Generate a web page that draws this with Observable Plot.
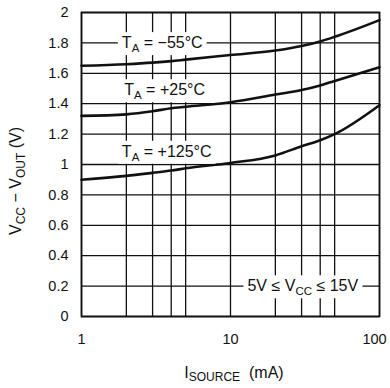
<!DOCTYPE html>
<html><head><meta charset="utf-8">
<script src="https://cdn.jsdelivr.net/npm/d3@7"></script>
<script src="https://cdn.jsdelivr.net/npm/@observablehq/plot@0.6"></script>
<style>body{margin:0;background:#fff} svg{display:block}</style>
</head><body><div id="chart"></div>
<script>
// ---- data ----
const iSource = [1, 2, 3, 4, 5, 10, 20, 30, 40, 50, 100];          // mA
const vMinus55 = [1.65, 1.66, 1.67, 1.68, 1.69, 1.72, 1.75, 1.78, 1.81, 1.84, 1.95];
const vPlus25  = [1.32, 1.33, 1.35, 1.37, 1.38, 1.41, 1.46, 1.49, 1.52, 1.55, 1.64];
const vPlus125 = [0.90, 0.925, 0.945, 0.96, 0.975, 1.01, 1.06, 1.12, 1.16, 1.20, 1.39];
const gridX = [1, 2, 3, 4, 5, 10, 20, 30, 40, 50, 100];
const gridY = [0, 0.2, 0.4, 0.6, 0.8, 1, 1.2, 1.4, 1.6, 1.8, 2];
const xTickLabels = ["1", "10", "100"];
const xTickValues = [1, 10, 100];
const yTickLabels = ["0", "0.2", "0.4", "0.6", "0.8", "1", "1.2", "1.4", "1.6", "1.8", "2"];
const seriesNames = ["-55", "+25", "+125"];

const rows = [];
[vMinus55, vPlus25, vPlus125].forEach((vals, k) =>
  vals.forEach((v, i) => rows.push({series: seriesNames[k], x: iSource[i], y: v})));

const FONT = "'Liberation Sans', Arial, sans-serif";
const xLab = d => xTickLabels[xTickValues.findIndex(v => Math.abs(v - d) < 1e-9)];
const yLab = d => yTickLabels[gridY.findIndex(v => Math.abs(v - d) < 1e-9)];

const chart = Plot.plot({
  width: 390, height: 388,
  marginLeft: 81, marginRight: 11, marginTop: 12, marginBottom: 72,
  style: {fontFamily: FONT, fontSize: "14px", color: "#111", background: "#fff"},
  x: {type: "log", domain: [1, 100]},
  y: {domain: [0, 2]},
  marks: [
    Plot.ruleX(gridX, {stroke: "#111", strokeWidth: 1.3}),
    Plot.ruleY(gridY, {stroke: "#111", strokeWidth: 1.3}),
    Plot.frame({stroke: "#111", strokeWidth: 1.7}),
    Plot.line(rows, {x: "x", y: "y", z: "series", stroke: "#111", strokeWidth: 2.6, curve: "monotone-x"}),
    Plot.axisY({ticks: gridY, tickFormat: yLab, tickSize: 0, tickPadding: 13, label: null, fontSize: 14.5}),
    Plot.axisX({ticks: [xTickValues[0], xTickValues[1]], tickFormat: xLab, tickSize: 0, tickPadding: 17, label: null, fontSize: 14.5}),
    Plot.axisX({ticks: [xTickValues[2]], tickFormat: xLab, tickSize: 0, tickPadding: 17, dx: -5, label: null, fontSize: 14.5})
  ]
});
document.getElementById("chart").append(chart);

const svg = d3.select(chart);
const sx = chart.scale("x"), sy = chart.scale("y");
const layer = svg.append("g").attr("font-family", FONT).attr("fill", "#111");

function richText(g, parts, size, subSize, shift) {
  const t = g.append("text").attr("font-size", size);
  let cur = 0;
  parts.forEach(([s, sub]) => {
    const want = sub ? shift : 0;
    t.append("tspan").attr("dy", want - cur).attr("font-size", sub ? subSize : size).text(s);
    cur = want;
  });
  return t;
}

function boxedLabel(x, yCenter, parts) {
  const g = layer.append("g");
  const rect = g.append("rect").attr("fill", "#fff");
  const t = richText(g, parts, 16, 11.5, 4).attr("text-anchor", "start")
    .attr("x", sx.apply(x)).attr("y", sy.apply(yCenter) + 5.7);
  const b = t.node().getBBox();
  rect.attr("x", b.x - 4).attr("y", b.y - 2).attr("width", b.width + 8).attr("height", b.height + 3);
}

boxedLabel(1.88, 1.8, [["T"], ["A", 1], [" = −55°C"]]);
boxedLabel(1.95, 1.49, [["T"], ["A", 1], [" = +25°C"]]);
boxedLabel(1.88, 1.085, [["T"], ["A", 1], [" = +125°C"]]);
boxedLabel(13.1, 0.2, [["5V ≤ V"], ["CC", 1], [" ≤ 15V"]]);

// axis titles
richText(layer.append("g").attr("transform", "translate(234,378)"),
  [["I"], ["SOURCE", 1], ["  (mA)"]], 16, 12, 3).attr("text-anchor", "middle");
richText(layer.append("g").attr("transform", "translate(21,181) rotate(-90)"),
  [["V"], ["CC", 1], [" − V"], ["OUT", 1], [" (V)"]], 16, 12, 4).attr("text-anchor", "middle");
</script></body></html>
